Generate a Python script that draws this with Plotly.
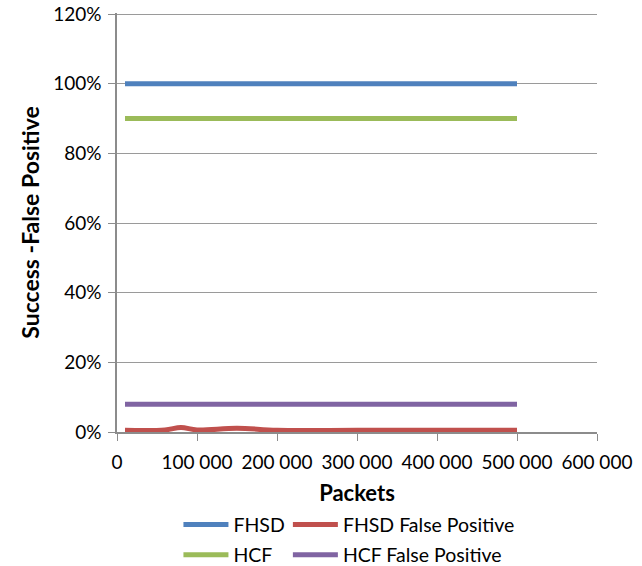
import plotly.graph_objects as go

x_full = [10000, 500000]
fhsd = [100, 100]
hcf = [90, 90]
hcf_fp = [8, 8]
x_fp = [10000, 60000, 80000, 100000, 150000, 200000, 300000, 400000, 500000]
fhsd_fp = [0.5, 0.6, 1.3, 0.6, 1.1, 0.5, 0.5, 0.5, 0.5]
x_ticks = [0, 100000, 200000, 300000, 400000, 500000, 600000]
x_labels = ["0", "100\u2005000", "200\u2005000", "300\u2005000", "400\u2005000", "500\u2005000", "600\u2005000"]
y_ticks = [0, 20, 40, 60, 80, 100, 120]
y_labels = ["0%", "20%", "40%", "60%", "80%", "100%", "120%"]

fig = go.Figure()
fig.add_trace(go.Scatter(x=x_full, y=fhsd, mode="lines", name="FHSD", legend="legend", legendgroup="a",
                         line=dict(color="#4F81BD", width=5)))
fig.add_trace(go.Scatter(x=x_fp, y=fhsd_fp, mode="lines", name="FHSD False Positive", legend="legend2", legendgroup="b",
                         line=dict(color="#C0504D", width=5, shape="spline", smoothing=1.0)))
fig.add_trace(go.Scatter(x=x_full, y=hcf, mode="lines", name="HCF", legend="legend", legendgroup="c",
                         line=dict(color="#9BBB59", width=5)))
fig.add_trace(go.Scatter(x=x_full, y=hcf_fp, mode="lines", name="HCF False Positive", legend="legend2", legendgroup="d",
                         line=dict(color="#8064A2", width=5)))

font_family = "Lato, Open Sans, sans-serif"
leg_common = dict(orientation="v", yanchor="top", y=-0.175, xanchor="left",
                  font=dict(size=19.5), tracegroupgap=2, itemwidth=45,
                  bgcolor="rgba(0,0,0,0)", traceorder="grouped")
fig.update_layout(
    width=642, height=566,
    margin=dict(l=117, r=45, t=13, b=134, autoexpand=False),
    paper_bgcolor="white", plot_bgcolor="white",
    font=dict(family=font_family, color="#000000", size=19),
    showlegend=True,
    legend=dict(x=0.128, **leg_common),
    legend2=dict(x=0.356, **leg_common),
    xaxis=dict(range=[0, 600000], tickvals=x_ticks, ticktext=x_labels,
               showgrid=False, showline=True, linecolor="#8c8c8c", linewidth=1.5,
               ticks="outside", ticklen=7, tickcolor="#8c8c8c", zeroline=False,
               tickfont=dict(size=19), automargin=False, ticklabeloverflow="allow",
               ticklabelstandoff=5,
               title=dict(text="<b>Packets</b>", font=dict(size=22), standoff=14)),
    yaxis=dict(range=[0, 120.3], tickvals=y_ticks, ticktext=y_labels,
               showgrid=True, gridcolor="#9a9a9a", gridwidth=1,
               showline=True, linecolor="#8c8c8c", linewidth=1.5,
               ticks="outside", ticklen=7, tickcolor="#8c8c8c", zeroline=False,
               tickfont=dict(size=19), automargin=False, ticklabeloverflow="allow",
               ticklabelstandoff=3,
               title=dict(text="<b>Success -False Positive</b>", font=dict(size=23), standoff=7)),
)

fig.write_html("out.html", config={"displayModeBar": False},
               post_script="document.body.style.margin='0';")
